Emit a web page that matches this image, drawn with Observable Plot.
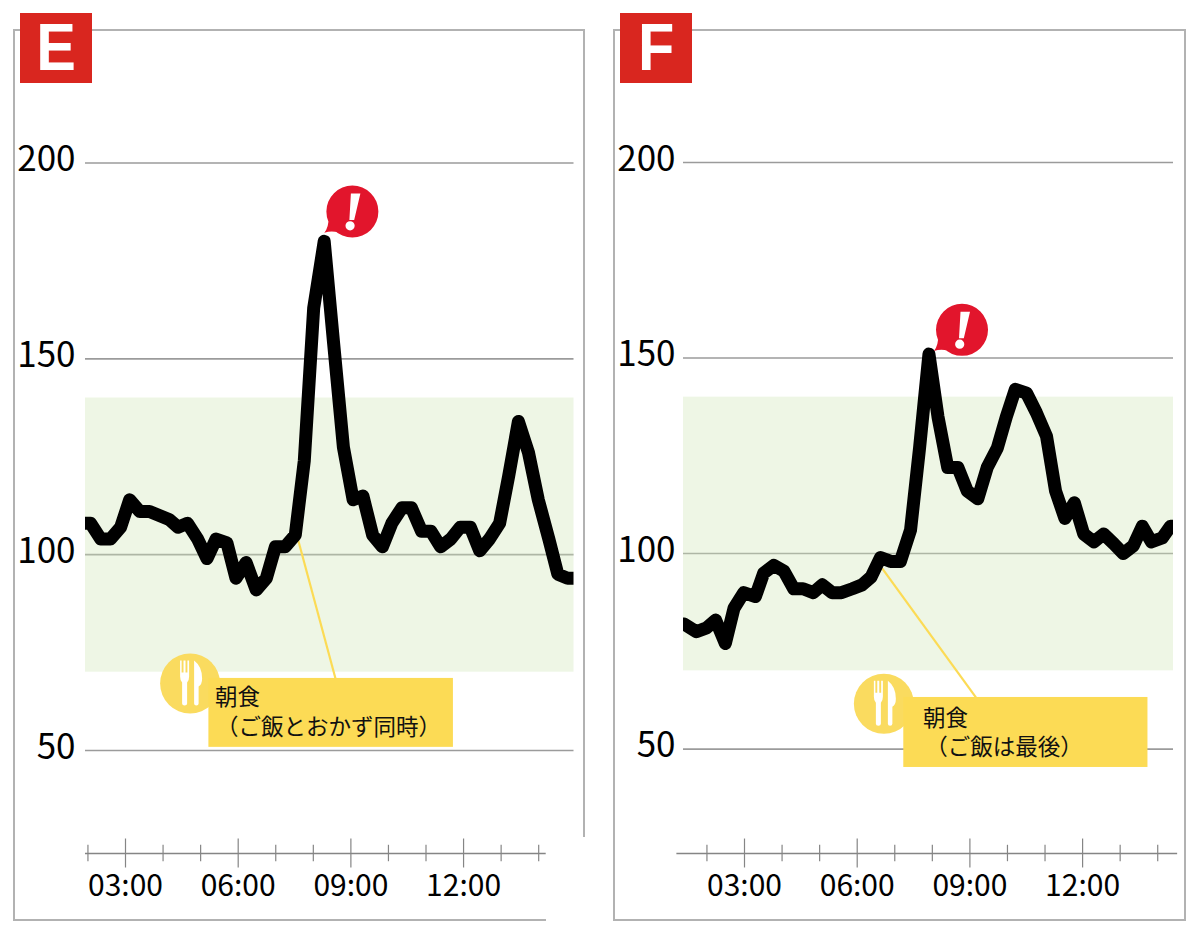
<!DOCTYPE html>
<html lang="ja">
<head>
<meta charset="utf-8">
<script src="https://cdn.jsdelivr.net/npm/d3@7"></script>
<script src="https://cdn.jsdelivr.net/npm/@observablehq/plot@0.6"></script>
<style>
html,body{margin:0;padding:0;background:#fff;}
#stage{position:relative;width:1200px;height:939px;overflow:hidden;background:#fff;font-family:"Noto Sans CJK JP","Noto Sans",sans-serif;}
#stage svg{position:absolute;top:0;background:transparent;overflow:visible;}
.line{position:absolute;background:#b2b2b2;}
.badge{position:absolute;top:13px;width:72px;height:70px;background:#d9261f;color:#fff;font:700 66px/68px "Liberation Sans",sans-serif;text-align:center;}
.badge span{display:inline-block;transform:scaleX(.9);}
</style>
</head>
<body>
<div id="stage">
  <div class="line" style="left:13px;top:29px;width:2px;height:892px"></div>
  <div class="line" style="left:13px;top:29px;width:571px;height:2px"></div>
  <div class="line" style="left:583px;top:29px;width:2px;height:808px"></div>
  <div class="line" style="left:13px;top:919px;width:533px;height:2px"></div>
  <div class="line" style="left:613px;top:29px;width:2px;height:892px"></div>
  <div class="line" style="left:613px;top:29px;width:573px;height:2px"></div>
  <div class="line" style="left:1184px;top:29px;width:2px;height:892px"></div>
  <div class="line" style="left:613px;top:919px;width:573px;height:2px"></div>
  <div class="badge" style="left:20px"><span>E</span></div>
  <div class="badge" style="left:620px"><span>F</span></div>
</div>
<script>
// ---- data ----
const hoursE = [1.94,2.07,2.34,2.60,2.87,3.11,3.38,3.64,3.90,4.16,4.40,4.65,4.92,5.17,5.41,5.70,5.94,6.21,6.48,6.75,6.99,7.25,7.52,7.76,8.01,8.29,8.54,8.80,9.06,9.32,9.58,9.84,10.09,10.36,10.61,10.88,11.13,11.39,11.66,11.91,12.18,12.43,12.69,12.96,13.20,13.46,13.73,13.99,14.27,14.51,14.77,14.94];
const glucoseE = [108,108,104,104,107,114,111,111,110,109,107,108,104,99,104,103,94,98,91,94,102,102,105,124,163,180,154,127.5,114,115,105,102,108,112,112,106,106,102,104,107,107,101,104,108,120,134,126,114,104,95,94,94];
const hoursF = [1.39,1.72,1.99,2.23,2.49,2.72,2.98,3.29,3.51,3.78,4.05,4.31,4.56,4.83,5.07,5.33,5.58,5.87,6.13,6.37,6.62,6.89,7.15,7.42,7.66,7.91,8.15,8.41,8.68,8.93,9.21,9.46,9.73,9.97,10.21,10.51,10.77,11.04,11.28,11.53,11.78,12.03,12.30,12.56,12.83,13.08,13.35,13.59,13.83,14.12,14.34,14.43];
const glucoseF = [82,80,81,83,77,86,90,89,95,97,95.5,91,91,90,92,90,90,91,92,94,99,98,98,106,127,151,135,122,122,116,114,122,127,135,142,141,136,130,116,109,113,105,103,105,102.5,100,102,107,103,104,107,107];
const yTicks = [50,100,150,200];
const majorHours = [3,6,9,12];
const minorHours = [2,4,5,7,8,10,11,13,14];
const timeLabels = ["03:00","06:00","09:00","12:00"];
const targetLow = 70, targetHigh = 140;
const mealLabelE = ["朝食","（ご飯とおかず同時）"];
const mealLabelF = ["朝食","（ご飯は最後）"];

// ---- custom glyphs for Plot.dot ----
const forkKnife = {draw(c,size){
  const s=Math.sqrt(size/Math.PI)/30;
  const P=(pts)=>{pts.forEach((p,i)=>{
    if(p.length===2){ i? c.lineTo(p[0]*s,p[1]*s):c.moveTo(p[0]*s,p[1]*s);}
    else c.quadraticCurveTo(p[0]*s,p[1]*s,p[2]*s,p[3]*s);
  });c.closePath();};
  P([[-10,-23],[-8.5,-23],[-8.5,-11],[-6.6,-11],[-6.6,-23],[-4.6,-23],[-4.6,-11],[-2.7,-11],[-2.7,-23],[-1,-23],[-1,-7],[-1,-3,-3,-1],[-3,20],[-3,22,-5.5,22],[-8,22,-8,20],[-8,-1],[-10,-3,-10,-7]]);
  P([[4,-23],[12,-17,12,-5],[12,1,8.5,3],[8.5,20],[8.5,22,6.2,22],[4,22,4,20]]);
}};
const alertBubble = {draw(c,size){
  const r=Math.sqrt(size/Math.PI);
  c.moveTo(r,0);
  c.arc(0,0,r,0,2*Math.PI);
  c.closePath();
  c.moveTo(-r*0.55,r*0.8);
  c.quadraticCurveTo(-r*0.8,r*0.72,-r*1.08,r*0.81);
  c.quadraticCurveTo(-r*0.9,r*0.6,-r*0.92,r*0.2);
  c.closePath();
}};
const alertMark = {draw(c,size){
  const k=Math.sqrt(size/Math.PI)/26;
  c.moveTo(-1.5*k,-18*k);c.lineTo(8*k,-18*k);c.lineTo(1.8*k,8.5*k);c.lineTo(-3*k,8.5*k);c.closePath();
  c.moveTo(2.3*k,14.3*k);c.arc(-2.3*k,14.3*k,4.6*k,0,2*Math.PI);c.closePath();
}};

const FONT = '"Noto Sans CJK JP","Noto Sans",sans-serif';
const GRID = "#9b9b9b", TICK = "#858585", YELLOW = "#fcdb55", CIRCLE="#fadb5f";

function panel(p){
  return Plot.plot({
    width:600, height:939,
    marginLeft:p.ml, marginRight:p.mr, marginTop:p.mt, marginBottom:86,
    x:{domain:p.xd, axis:null},
    y:{domain:p.yd, axis:null},
    style:{fontFamily:FONT, background:"transparent", color:"#000"},
    marks:[
      Plot.ruleY(yTicks,{stroke:GRID,strokeWidth:1.6,x1:p.xd[0],x2:p.xd[1]}),
      Plot.rect([0],{x1:p.xd[0],x2:p.xd[1],y1:targetLow,y2:targetHigh,fill:"#cfe6b8",fillOpacity:0.36}),
      Plot.axisY(yTicks,{anchor:"left",tickSize:0,tickPadding:p.pad,fontSize:35,label:null,dy:-3,fill:"#000"}),
      // time axis
      Plot.ruleY([p.yd[0]],{x1:p.axis[0],x2:p.axis[1],stroke:TICK,strokeWidth:1.6}),
      Plot.ruleX(majorHours,{y1:p.yd[0]-3.7,y2:p.yd[0]+3.7,stroke:TICK,strokeWidth:1.2}),
      Plot.ruleX(minorHours,{y1:p.yd[0]-2.1,y2:p.yd[0]+2.1,stroke:TICK,strokeWidth:1.2}),
      Plot.axisX(majorHours,{anchor:"bottom",tickSize:0,tickPadding:21,fontSize:30,label:null,fill:"#000",
        tickFormat:d=>timeLabels[majorHours.indexOf(d)]}),
      // breakfast callout
      Plot.link([0],{x1:p.lead[0],y1:p.lead[1],x2:p.lead[2],y2:p.lead[3],stroke:YELLOW,strokeWidth:2.2}),
      Plot.dot([0],{x:p.meal[0],y:p.meal[1],r:30,fill:CIRCLE,stroke:"none"}),
      Plot.dot([0],{x:p.meal[0],y:p.meal[1],r:30,symbol:forkKnife,fill:"#fff",stroke:"none"}),
      Plot.rect([0],{x1:p.box[0],x2:p.box[1],y1:p.box[2],y2:p.box[3],fill:YELLOW}),
      Plot.text([p.label[0]],{x:p.text[0],y:p.text[1],text:d=>d,textAnchor:"start",fontSize:22.5,fill:"#111"}),
      Plot.text([p.label[1]],{x:p.text[2],y:p.text[3],text:d=>d,textAnchor:"start",fontSize:22.5,fill:"#111"}),
      // glucose curve
      Plot.line(p.v,{x:(d,i)=>p.h[i],y:d=>d,stroke:"#000",strokeWidth:13,strokeLinejoin:"round",strokeLinecap:"round",clip:"frame"}),
      // alert bubble
      Plot.dot([0],{x:p.alert[0],y:p.alert[1],r:26,symbol:alertBubble,fill:"#e2152c",stroke:"none"}),
      Plot.dot([0],{x:p.alert[0],y:p.alert[1],r:26,symbol:alertMark,fill:"#fff",stroke:"none"})
    ]
  });
}

const plotE = panel({
  ml:85, mr:26.5, mt:162.5, pad:10,
  xd:[1.935,14.94], yd:[23.7,200], axis:[1.935,14.2],
  h:hoursE, v:glucoseE,
  lead:[7.60,103.6,8.59,68.4], meal:[4.72,67.1], box:[5.22,11.73,50.8,68.4],
  text:[5.38,63.5,5.41,55.9], label:mealLabelE, alert:[9.04,187.6]
});
const plotF = panel({
  ml:83, mr:27, mt:162, pad:8,
  xd:[1.376,14.42], yd:[23.3,200], axis:[1.20,14.53],
  h:hoursF, v:glucoseF,
  lead:[6.665,96.2,9.16,63.2], meal:[6.71,61.6], box:[7.24,13.74,45.3,63.2],
  text:[7.75,57.8,7.81,50.4], label:mealLabelF, alert:[8.79,157.2]
});
plotE.style.left="0px"; plotF.style.left="600px";
const stage=document.getElementById("stage");
stage.appendChild(plotE); stage.appendChild(plotF);
</script>
</body>
</html>
